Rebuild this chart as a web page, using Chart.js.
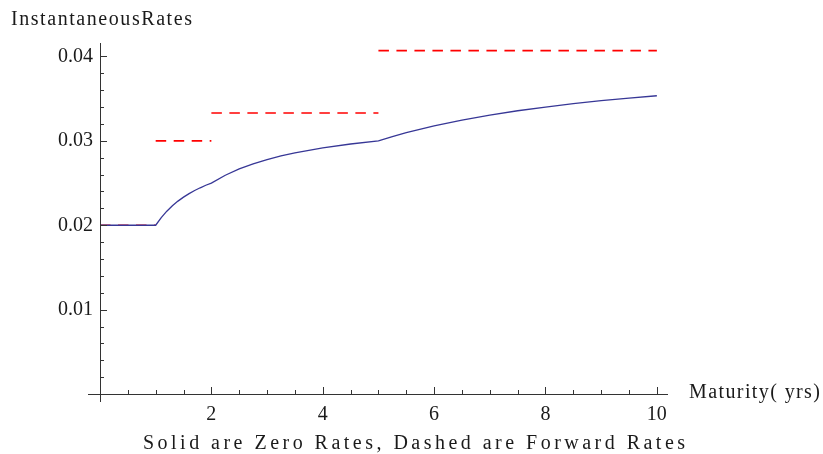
<!DOCTYPE html>
<html>
<head>
<title>Instantaneous Rates</title>
<script src="https://cdn.jsdelivr.net/npm/chart.js"></script>
<style>
    html, body { margin: 0; padding: 0; background: #fff; }
    canvas { display: block; }
</style>
</head>
<body>
<canvas id="chart" width="823" height="454"></canvas>
<script>
// zero rate curve (solid)
var maturity = [0, 0.5, 1, 1.1, 1.2, 1.3, 1.4, 1.5, 1.6, 1.7, 1.8, 1.9, 2,
    2.25, 2.5, 2.75, 3, 3.25, 3.5, 4, 4.5, 5,
    5.25, 5.5, 6, 6.5, 7, 7.5, 8, 8.5, 9, 9.5, 10];
var zeroRate = [0.02, 0.02, 0.02, 0.02091, 0.02167, 0.02231, 0.02286, 0.02333, 0.02375, 0.02412, 0.02444, 0.02474, 0.025,
    0.02593, 0.02667, 0.02727, 0.02778, 0.02821, 0.02857, 0.02917, 0.02963, 0.03,
    0.03051, 0.03097, 0.03178, 0.03247, 0.03306, 0.03357, 0.03401, 0.03441, 0.03476, 0.03507, 0.03535];

// forward rates (dashed), one flat piece per interval
var fwdStart = [0, 1, 2, 5];
var fwdEnd = [1, 2, 5, 10];
var fwdRate = [0.02, 0.03, 0.0333, 0.0407];

var xTicks = [2, 4, 6, 8, 10];
var yTicks = [0.01, 0.02, 0.03, 0.04];
var xMinor = [0.5, 1, 1.5, 2.5, 3, 3.5, 4.5, 5, 5.5, 6.5, 7, 7.5, 8.5, 9, 9.5];
var yMinor = [0.002, 0.004, 0.006, 0.008, 0.012, 0.014, 0.016, 0.018,
    0.022, 0.024, 0.026, 0.028, 0.032, 0.034, 0.036, 0.038];

var FONT = '"Liberation Serif", "Times New Roman", serif';
var TXT = '#1a1a1a';
var AXIS = '#333';

var datasets = [{
    data: maturity.map(function(t, i) { return {x: t, y: zeroRate[i]}; }),
    borderColor: 'rgb(55,55,150)',
    borderWidth: 1.3,
    pointRadius: 0,
    tension: 0
}];
for (var i = 0; i < fwdRate.length; i++) {
    datasets.push({
        data: [{x: fwdStart[i], y: fwdRate[i]}, {x: fwdEnd[i], y: fwdRate[i]}],
        borderColor: 'rgb(255,0,0)',
        borderWidth: 1.6,
        borderDash: [10.5, 7.5],
        pointRadius: 0
    });
}

function spacedText(ctx, text, x, y, width) {
    ctx.letterSpacing = '0px';
    var w = ctx.measureText(text).width;
    var sp = (width - w) / (text.length - 1);
    ctx.letterSpacing = sp.toFixed(2) + 'px';
    ctx.fillText(text, x, y);
    ctx.letterSpacing = '0px';
}

var axesPlugin = {
    id: 'mmaAxes',
    afterDraw: function(chart) {
        var ctx = chart.ctx;
        var xs = chart.scales.x, ys = chart.scales.y;
        var x0 = xs.getPixelForValue(0), y0 = ys.getPixelForValue(0);
        ctx.save();
        ctx.strokeStyle = AXIS;
        ctx.lineWidth = 1;
        ctx.beginPath();
        ctx.moveTo(x0 - 12, y0 + 0.5);
        ctx.lineTo(xs.right, y0 + 0.5);
        ctx.moveTo(x0 + 0.5, ys.top);
        ctx.lineTo(x0 + 0.5, y0 + 8);
        xTicks.forEach(function(v) {
            var p = Math.round(xs.getPixelForValue(v)) + 0.5;
            ctx.moveTo(p, y0); ctx.lineTo(p, y0 - 7);
        });
        xMinor.forEach(function(v) {
            var p = Math.round(xs.getPixelForValue(v)) + 0.5;
            ctx.moveTo(p, y0); ctx.lineTo(p, y0 - 4);
        });
        yTicks.forEach(function(v) {
            var p = Math.round(ys.getPixelForValue(v)) + 0.5;
            ctx.moveTo(x0, p); ctx.lineTo(x0 + 7, p);
        });
        yMinor.forEach(function(v) {
            var p = Math.round(ys.getPixelForValue(v)) + 0.5;
            ctx.moveTo(x0, p); ctx.lineTo(x0 + 4, p);
        });
        ctx.stroke();

        ctx.fillStyle = TXT;
        ctx.font = '20px ' + FONT;
        ctx.textBaseline = 'middle';
        ctx.textAlign = 'left';
        spacedText(ctx, 'InstantaneousRates', 11, 20, 181);
        spacedText(ctx, 'Maturity( yrs)', 689, 393, 131);
        spacedText(ctx, 'Solid are Zero Rates, Dashed are Forward Rates', 143, 444, 542);
        ctx.restore();
    }
};

new Chart(document.getElementById('chart'), {
    type: 'line',
    data: { datasets: datasets },
    options: {
        responsive: false,
        animation: false,
        layout: { padding: { top: 43, right: 155, left: 0, bottom: 0 } },
        plugins: { legend: { display: false }, tooltip: { enabled: false } },
        scales: {
            x: {
                type: 'linear',
                min: 0,
                max: 10.2,
                afterBuildTicks: function(s) { s.ticks = xTicks.map(function(v) { return {value: v}; }); },
                afterFit: function(s) { s.height = 60; },
                grid: { display: false, drawTicks: false },
                border: { display: false },
                ticks: { font: { family: FONT, size: 20 }, color: TXT, padding: 9, maxRotation: 0, autoSkip: false }
            },
            y: {
                type: 'linear',
                min: 0,
                max: 0.0416,
                afterBuildTicks: function(s) { s.ticks = yTicks.map(function(v) { return {value: v}; }); },
                afterFit: function(s) { s.width = 100; },
                grid: { display: false, drawTicks: false },
                border: { display: false },
                ticks: {
                    font: { family: FONT, size: 20 }, color: TXT, padding: 7,
                    callback: function(v) { return v.toFixed(2); }
                }
            }
        }
    },
    plugins: [axesPlugin]
});
</script>
</body>
</html>
